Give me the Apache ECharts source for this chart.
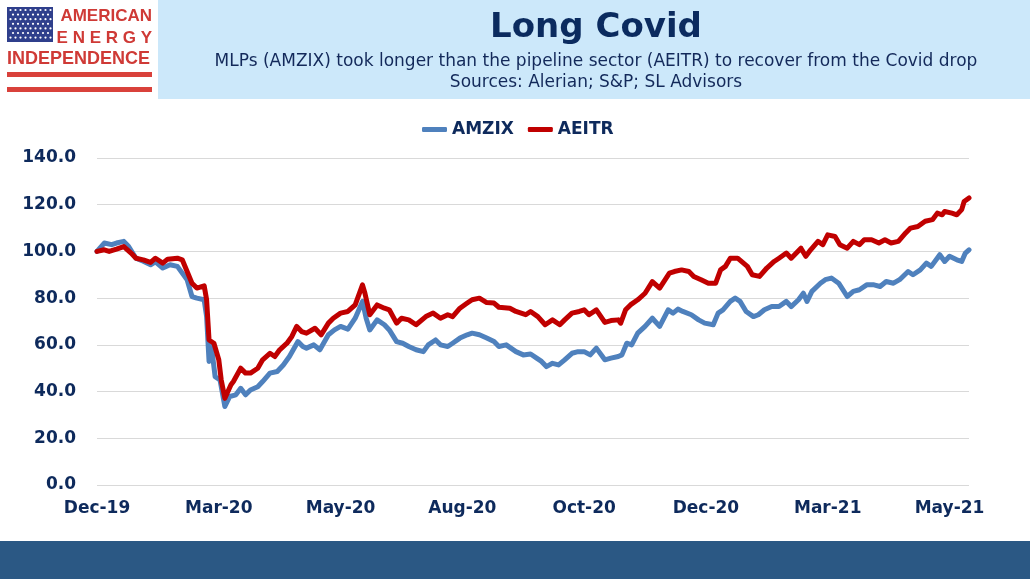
<!DOCTYPE html>
<html>
<head>
<meta charset="utf-8">
<title>Long Covid</title>
<script src="https://cdn.jsdelivr.net/npm/echarts@6/dist/echarts.min.js"></script>
<style>
  html, body { margin: 0; padding: 0; background: #fff; }
  #chart { width: 1030px; height: 579px; }
</style>
</head>
<body>
<div id="chart"></div>
<script>
// x = trading days since 31-Dec-2019, y = index level (start = 100)
var xTickLabels = ['Dec-19', 'Mar-20', 'May-20', 'Aug-20', 'Oct-20', 'Dec-20', 'Mar-21', 'May-21'];
var xTickStep = 50;
var lastDay = 358;

var amzix = [
    [0, 100], [3, 103.6], [6, 102.9], [8, 103.6], [11, 104.3], [13, 102.1], [16, 97.1], [19, 95.8],
    [22, 94.3], [24, 95.5], [27, 92.9], [30, 94.3], [33, 93.6], [37, 87.9], [39, 80.7], [41, 80],
    [44, 79.3], [45, 72.1], [46, 52.9], [47, 59.3], [48.5, 46.4], [50.5, 45], [52.5, 33.6], [54.5, 37.9],
    [57, 38.6], [59, 41.4], [61, 38.6], [63, 40.7], [66, 42.1], [68, 44.3], [71, 47.9], [74, 48.6],
    [76.5, 51.4], [79, 55], [82.5, 61.4], [84.5, 59.3], [86, 58.6], [89, 60], [91.5, 57.9], [95, 64.3],
    [97.5, 66.4], [100, 67.9], [103, 66.7], [106, 71.4], [109, 78.6], [110.5, 71.4], [112, 66.4], [115, 70.7],
    [118, 68.6], [120, 66.4], [123, 61.4], [125.5, 60.7], [128, 59.3], [131, 57.9], [134, 57.1], [136, 60],
    [139, 62.1], [141, 60], [144, 59.3], [146, 60.7], [149, 62.9], [152, 64.3], [154, 65], [157, 64.3],
    [160, 62.9], [163, 61.4], [165, 59.3], [168, 60], [172, 57.1], [175, 55.7], [178, 56.1], [180.5, 54.3],
    [182.5, 52.9], [184.5, 50.7], [187, 52.1], [189.5, 51.4], [192, 53.6], [195, 56.4], [197.5, 57.1], [200, 57.1],
    [202.5, 55.7], [205, 58.6], [208.5, 53.6], [211, 54.3], [214, 55], [215.5, 55.7], [217.5, 60.7], [219.5, 60],
    [222, 65], [225, 67.9], [228, 71.4], [231, 67.9], [234.5, 75], [236.5, 73.6], [238.5, 75.3], [240.5, 74.3],
    [244, 72.9], [247, 70.7], [249.5, 69.3], [253, 68.6], [255, 73.6], [257, 75], [260, 78.6], [262, 80],
    [264, 78.6], [266.5, 74.3], [269.5, 72.1], [271.5, 72.9], [274, 75], [277, 76.4], [280, 76.4], [283, 78.6],
    [285, 76.4], [288, 79.3], [290, 82.1], [291.5, 78.6], [293.5, 82.9], [297, 86.4], [299, 87.9], [301.5, 88.6],
    [304.5, 86.4], [308, 80.7], [310.5, 82.9], [313, 83.6], [316, 85.7], [319, 85.7], [321.5, 85], [324, 87.1],
    [327, 86.4], [329.5, 87.9], [333, 91.4], [335, 90], [338, 92.1], [340.5, 95], [342.5, 93.6], [346, 98.6],
    [348, 95.7], [350, 97.9], [353, 96.4], [355, 95.7], [356.5, 99.3], [358, 100.7]
];

var aeitr = [
    [0, 100], [3, 100.7], [5, 100], [8, 101], [11, 102.1], [14, 99.3], [16, 97.1], [19, 96.4],
    [22, 95.3], [24, 97.1], [27, 95], [29, 96.7], [33, 97.1], [35, 96.4], [37, 91.4], [39, 86.4],
    [41, 84.3], [44, 85.3], [45, 79.3], [46, 62.1], [48, 60.7], [50, 53.6], [51, 45], [52.5, 37.1],
    [55, 42.9], [56, 44.3], [59, 50], [61, 47.9], [63, 47.9], [66, 50], [68, 53.6], [71, 56.4],
    [73, 55], [75, 57.9], [78, 60.7], [80, 63.6], [82, 67.9], [84, 65.7], [86, 65], [89.5, 67.1],
    [92, 64.3], [95, 69.3], [97, 71.4], [100, 73.6], [103, 74.3], [106, 77.1], [109, 85.7], [110, 82.1],
    [112, 72.9], [115, 77.1], [118, 75.7], [120, 75], [123, 69.3], [125, 71.4], [128, 70.7], [131, 68.6],
    [135, 72.1], [138, 73.6], [141, 71.4], [144, 72.9], [146, 72.1], [149, 75.7], [152, 77.9], [154, 79.3],
    [157, 80], [160, 78.1], [163, 77.9], [165, 76.1], [169.5, 75.7], [172, 74.3], [176, 72.9], [178, 74.3],
    [181, 72.1], [184, 68.6], [187, 70.7], [190, 68.6], [192, 70.7], [195, 73.6], [198, 74.3], [200, 75],
    [202, 72.9], [205, 75], [208.5, 69.6], [211, 70.4], [214, 70.7], [215, 69.3], [217, 75], [219, 77.1],
    [222, 79.3], [225, 82.1], [228, 87.1], [231, 84.3], [235, 90.7], [237, 91.4], [240, 92.1], [243, 91.4],
    [245, 89.3], [248, 87.9], [251, 86.4], [254, 86.4], [256, 92.1], [258, 93.6], [260, 97.1], [263, 97.1],
    [267, 93.6], [269, 90], [272, 89.3], [275, 92.9], [278, 95.7], [280, 97.1], [283, 99.3], [285, 97.1],
    [289, 101.4], [291, 97.9], [293, 100.7], [296, 104.3], [298, 102.9], [300, 107.1], [303, 106.4], [305, 102.9],
    [308, 101.4], [310.5, 104.3], [313, 102.9], [315, 105], [318, 105], [321, 103.6], [323.5, 105], [326, 103.6],
    [329, 104.3], [332, 107.9], [334, 110], [337, 110.7], [340, 112.9], [343, 113.6], [345, 116.4], [347, 115.7],
    [348, 117.1], [351, 116.4], [353, 115.7], [355, 117.9], [356, 121.4], [358, 122.9]
];

var navy = '#0e2a5c';
var font = '"DejaVu Sans", Verdana, sans-serif';
var logoFont = '"Liberation Sans", Arial, sans-serif';

// logo stars (decoration)
var stars = [];
for (var r = 0; r < 7; r++) {
    for (var c = 0; c < (r % 2 ? 8 : 9); c++) {
        stars.push({
            type: 'circle',
            silent: true,
            shape: { cx: 10.5 + c * 5 + (r % 2 ? 2.5 : 0), cy: 10 + r * 4.6, r: 1.1 },
            style: { fill: '#ffffff' },
            z: 2
        });
    }
}

var chart = echarts.init(document.getElementById('chart'));
chart.setOption({
    backgroundColor: '#ffffff',
    animation: false,
    graphic: [
        // 标题背景 + 底部色条
        { type: 'rect', silent: true, shape: { x: 158, y: 0, width: 872, height: 99 }, style: { fill: '#cce8fa' }, z: 0 },
        { type: 'rect', silent: true, shape: { x: 0, y: 541, width: 1030, height: 38 }, style: { fill: '#2b5884' }, z: 0 },
        {
            type: 'text', silent: true, x: 596, y: 28,
            style: { text: 'Long Covid', font: 'bold 34px ' + font, fill: '#0b2b5f', align: 'center', verticalAlign: 'middle' }
        },
        {
            type: 'text', silent: true, x: 596, y: 62,
            style: { text: 'MLPs (AMZIX) took longer than the pipeline sector (AEITR) to recover from the Covid drop', font: '17px ' + font, fill: '#13295a', align: 'center', verticalAlign: 'middle' }
        },
        {
            type: 'text', silent: true, x: 596, y: 83,
            style: { text: 'Sources: Alerian; S&P; SL Advisors', font: '17px ' + font, fill: '#13295a', align: 'center', verticalAlign: 'middle' }
        },
        // logo
        { type: 'rect', silent: true, shape: { x: 7, y: 7, width: 46, height: 35 }, style: { fill: '#2f3f8c' }, z: 1 },
        {
            type: 'text', silent: true, x: 152, y: 16,
            style: { text: 'AMERICAN', font: 'bold 17px ' + logoFont, fill: '#cf3a36', align: 'right', verticalAlign: 'middle' }
        },
        {
            type: 'text', silent: true, x: 152, y: 38,
            style: { text: 'E N E R G Y', font: 'bold 17px ' + logoFont, fill: '#cf3a36', align: 'right', verticalAlign: 'middle' }
        },
        {
            type: 'text', silent: true, x: 7, y: 59,
            style: { text: 'INDEPENDENCE', font: 'bold 18px ' + logoFont, fill: '#cf3a36', align: 'left', verticalAlign: 'middle' }
        },
        { type: 'rect', silent: true, shape: { x: 7, y: 72, width: 145, height: 5 }, style: { fill: '#d9413b' } },
        { type: 'rect', silent: true, shape: { x: 7, y: 87, width: 145, height: 5 }, style: { fill: '#d9413b' } }
    ].concat(stars),
    legend: {
        data: ['AMZIX', 'AEITR'],
        top: 116,
        left: 417,
        icon: 'roundRect',
        itemWidth: 25,
        itemHeight: 5,
        itemGap: 14,
        textStyle: { color: navy, fontWeight: 'bold', fontSize: 17, fontFamily: font }
    },
    grid: { left: 97, right: 61, top: 158, bottom: 94, containLabel: false },
    xAxis: {
        type: 'value',
        min: 0,
        max: lastDay,
        interval: xTickStep,
        axisLine: { show: false },
        axisTick: { show: false },
        splitLine: { show: false },
        axisLabel: {
            color: navy, fontWeight: 'bold', fontSize: 17, fontFamily: font, margin: 15,
            formatter: function (v) {
                return v % xTickStep === 0 ? (xTickLabels[v / xTickStep] || '') : '';
            }
        }
    },
    yAxis: {
        type: 'value',
        min: 0,
        max: 140,
        interval: 20,
        axisLine: { show: false },
        axisTick: { show: false },
        splitLine: { lineStyle: { color: '#d9d9d9', width: 1 } },
        axisLabel: {
            color: navy, fontWeight: 'bold', fontSize: 17, fontFamily: font, margin: 21,
            formatter: function (v) { return v.toFixed(1); }
        }
    },
    series: [
        {
            name: 'AMZIX', type: 'line', data: amzix, showSymbol: false, symbol: 'none',
            lineStyle: { color: '#4f81bd', width: 5, join: 'round', cap: 'round' },
            itemStyle: { color: '#4f81bd' }
        },
        {
            name: 'AEITR', type: 'line', data: aeitr, showSymbol: false, symbol: 'none',
            lineStyle: { color: '#c00000', width: 5, join: 'round', cap: 'round' },
            itemStyle: { color: '#c00000' }
        }
    ]
});
</script>
</body>
</html>
